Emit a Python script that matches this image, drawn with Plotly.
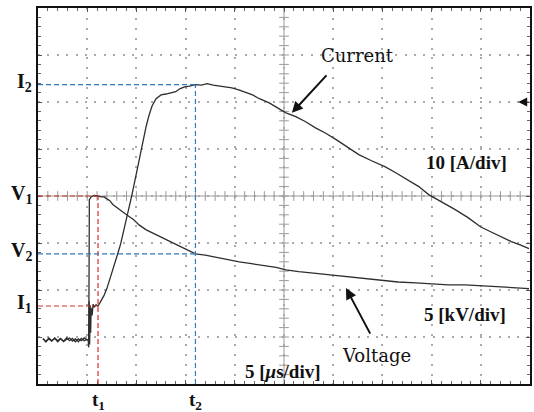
import plotly.graph_objects as go

# Oscilloscope capture: time in microseconds (trigger at 0), current in A, voltage in kV
t_cur = [-4.6, -4.3, -4.0, -3.7, -3.4, -3.1, -2.8, -2.5, -2.2, -1.9, -1.6, -1.3, -1.0, -0.7, -0.4, -0.15,
         0.0, 0.05, 0.1, 0.15, 0.2, 0.25, 0.3, 0.4, 0.5, 0.6, 0.8, 1.0, 1.3, 1.6, 1.9, 2.2, 2.5, 2.8,
         3.0, 3.3, 3.6, 3.9, 4.2, 4.4, 4.7, 5.0, 5.3, 5.6, 5.9, 6.2, 6.5, 6.9, 7.4, 7.9, 8.4, 8.9,
         9.3, 9.8, 10.3, 10.9, 11.5, 12.1, 12.7, 13.3, 13.9, 14.6, 15.3, 16.0, 16.7, 17.4, 18.4,
         19.2, 20.1, 21.1, 22.1, 23.1, 24.1, 25.2, 26.3, 27.5, 28.8, 30.2, 31.3, 32.5, 33.6, 34.6,
         35.9, 37.3, 38.6, 39.9, 40.9, 42.0, 43.0, 43.9, 44.8]
current = [0.3, -0.4, 0.2, -0.3, 0.4, -0.2, 0.3, -0.4, 0.1, 0.4, -0.3, 0.2, -0.4, 0.3, -0.2, 0.1,
           0.0, -1.6, 8.2, -1.0, 7.4, 1.5, 6.8, 5.2, 7.6, 6.9, 7.5, 7.2, 8.3, 9.4, 10.9, 12.8, 14.9, 16.8,
           18.3, 20.4, 23.0, 25.7, 28.5, 30.4, 33.4, 36.6, 39.8, 42.8, 45.5, 47.9, 49.8, 51.3, 52.1, 52.3, 52.6, 52.8,
           53.4, 53.8, 54.0, 54.3, 54.2, 54.5, 54.2, 54.0, 53.8, 53.6, 53.2, 52.6, 52.1, 51.3, 50.4,
           49.4, 48.3, 47.5, 46.4, 45.1, 44.0, 42.6, 41.1, 39.4, 38.1, 36.8, 35.5, 34.0, 32.6, 30.9,
           29.4, 27.7, 26.0, 24.0, 23.0, 21.9, 20.9, 20.2, 19.4]

t_vol = [-4.6, -4.3, -4.0, -3.7, -3.4, -3.1, -2.8, -2.5, -2.2, -1.9, -1.6, -1.3, -1.0, -0.7, -0.4, -0.15,
         0.06, 0.12, 0.3, 0.6, 1.0, 1.3, 1.6, 1.9, 2.2, 2.5, 3.2, 3.9, 4.6, 5.2, 5.9, 6.5, 7.25, 7.96,
         9.0, 9.9, 10.9, 11.9, 12.9, 14.1, 15.35, 16.6, 17.9, 19.1, 20.1, 21.4, 22.9, 24.8, 26.5,
         28.2, 29.8, 31.5, 33.3, 34.9, 36.6, 38.3, 39.9, 41.7, 43.2, 44.8]
voltage = [0.1, -0.2, 0.2, -0.1, 0.15, -0.2, 0.1, -0.15, 0.2, -0.1, 0.15, -0.2, 0.1, -0.1, 0.2, 0.0,
           0.0, 14.9, 15.2, 15.35, 15.3, 15.2, 15.2, 15.0, 14.8, 14.4, 13.8, 13.3, 12.8, 12.2, 11.7, 11.4, 11.0, 10.6,
           10.1, 9.7, 9.15, 9.0, 8.8, 8.5, 8.3, 8.1, 7.9, 7.7, 7.45, 7.25, 7.1, 6.9, 6.7,
           6.5, 6.3, 6.15, 6.05, 5.95, 5.85, 5.85, 5.75, 5.65, 5.55, 5.45]

# Marked instants and levels
t1, t2 = 1.0, 10.9
I1, I2 = 7.2, 54.3
V1, V2 = 15.3, 9.15

# Screen: 10 horizontal x 8 vertical divisions
T_RANGE = [-5.1, 44.9]      # 5 us/div
I_RANGE = [-9.4, 70.6]      # 10 A/div
V_RANGE = [-4.7, 35.3]      # 5 kV/div

TRACE = "#2e2e2e"
RED = "#d2302c"
BLUE = "#2f78c4"
GRID = "#ababab"
AXIS_GREY = "#9a9a9a"
SERIF = "Liberation Serif, Times New Roman, Times, serif"
LABEL_SERIF = "DejaVu Serif, serif"

fig = go.Figure()

# centre graticule with small division marks
t_mid = (T_RANGE[0] + T_RANGE[1]) / 2
i_mid = (I_RANGE[0] + I_RANGE[1]) / 2
minor_t = [T_RANGE[0] + k * 1.0 for k in range(1, 50)]
minor_i = [I_RANGE[0] + k * 2.0 for k in range(1, 40)]
fig.add_shape(type="line", xref="x", yref="y", x0=T_RANGE[0], x1=T_RANGE[1], y0=i_mid, y1=i_mid,
              line=dict(color=AXIS_GREY, width=1), layer="below")
fig.add_shape(type="line", xref="x", yref="y", x0=t_mid, x1=t_mid, y0=I_RANGE[0], y1=I_RANGE[1],
              line=dict(color=AXIS_GREY, width=1), layer="below")
fig.add_trace(go.Scatter(x=minor_t, y=[i_mid] * len(minor_t), mode="markers",
                         marker=dict(symbol="line-ns-open", size=7, color=AXIS_GREY,
                                     line=dict(color=AXIS_GREY, width=1)),
                         hoverinfo="skip", showlegend=False))
fig.add_trace(go.Scatter(x=[t_mid] * len(minor_i), y=minor_i, mode="markers",
                         marker=dict(symbol="line-ew-open", size=7, color=AXIS_GREY,
                                     line=dict(color=AXIS_GREY, width=1)),
                         hoverinfo="skip", showlegend=False))

# reference cursors
dash = "5px,3px"
fig.add_shape(type="line", xref="x", yref="y2", x0=T_RANGE[0], x1=t1, y0=V1, y1=V1, line=dict(color=RED, width=1.2, dash=dash))
fig.add_shape(type="line", xref="x", yref="y", x0=T_RANGE[0], x1=t1, y0=I1, y1=I1, line=dict(color=RED, width=1.2, dash=dash))
fig.add_shape(type="line", xref="x", yref="y2", x0=t1, x1=t1, y0=V_RANGE[0], y1=V1, line=dict(color=RED, width=1.2, dash=dash))
fig.add_shape(type="line", xref="x", yref="y", x0=T_RANGE[0], x1=t2, y0=I2, y1=I2, line=dict(color=BLUE, width=1.2, dash=dash))
fig.add_shape(type="line", xref="x", yref="y2", x0=T_RANGE[0], x1=t2, y0=V2, y1=V2, line=dict(color=BLUE, width=1.2, dash=dash))
fig.add_shape(type="line", xref="x", yref="y", x0=t2, x1=t2, y0=I_RANGE[0], y1=I2, line=dict(color=BLUE, width=1.2, dash=dash))

# waveforms
fig.add_trace(go.Scatter(x=t_vol, y=voltage, mode="lines", yaxis="y2",
                         line=dict(color=TRACE, width=1.3), hoverinfo="skip", showlegend=False))
fig.add_trace(go.Scatter(x=t_cur, y=current, mode="lines",
                         line=dict(color=TRACE, width=1.3), hoverinfo="skip", showlegend=False))

ann = []
# level labels on the left
for txt, val, ref in [("<b>I<sub>2</sub></b>", I2, "y"), ("<b>V<sub>1</sub></b>", V1, "y2"),
                      ("<b>V<sub>2</sub></b>", V2, "y2"), ("<b>I<sub>1</sub></b>", I1, "y")]:
    ann.append(dict(text=txt, xref="paper", x=-0.008, xanchor="right", yref=ref, y=val, yanchor="middle",
                    showarrow=False, font=dict(family=SERIF, size=20, color="#111"), yshift=2))
# time labels below
for txt, val in [("<b>t<sub>1</sub></b>", t1), ("<b>t<sub>2</sub></b>", t2)]:
    ann.append(dict(text=txt, xref="x", x=val, xanchor="center", yref="paper", y=-0.045, yanchor="middle",
                    showarrow=False, font=dict(family=SERIF, size=19, color="#111")))
# scale factors
for txt, xp, yp in [("<b>10 [A/div]</b>", 0.870, 0.588), ("<b>5 [kV/div]</b>", 0.868, 0.186),
                    ("<b>5 [<i>μ</i>s/div]</b>", 0.498, 0.032)]:
    ann.append(dict(text=txt, xref="paper", x=xp, xanchor="center", yref="paper", y=yp, yanchor="middle",
                    showarrow=False, font=dict(family=SERIF, size=19, color="#111")))
# trace names with pointers
ann.append(dict(text="Current", xref="paper", x=0.650, xanchor="center", yref="paper", y=0.875, yanchor="middle",
                showarrow=False, font=dict(family=LABEL_SERIF, size=18, color="#111")))
ann.append(dict(text="", xref="x", x=20.7, yref="y", y=48.3, showarrow=True, ax=36, ay=-39,
                arrowhead=2, arrowsize=1.1, arrowwidth=2, arrowcolor="#111"))
ann.append(dict(text="Voltage", xref="paper", x=0.688, xanchor="center", yref="paper", y=0.077, yanchor="middle",
                showarrow=False, font=dict(family=LABEL_SERIF, size=18, color="#111")))
ann.append(dict(text="", xref="x", x=26.2, yref="y2", y=5.5, showarrow=True, ax=25, ay=47,
                arrowhead=2, arrowsize=1.1, arrowwidth=2, arrowcolor="#111"))
# trigger level marker on the right edge
ann.append(dict(text="", xref="paper", x=0.976, yref="paper", y=0.75, showarrow=True, ax=10, ay=0,
                arrowhead=2, arrowsize=1.2, arrowwidth=1.5, arrowcolor="#111"))

axis_common = dict(showticklabels=False, zeroline=False, showline=True, linecolor="#111", linewidth=1.5,
                   mirror="ticks", ticks="inside", ticklen=4, tickcolor="#555", gridcolor=GRID, gridwidth=1.6)

fig.update_layout(
    width=534, height=412,
    margin=dict(l=38, r=2, t=8, b=28),
    paper_bgcolor="white", plot_bgcolor="white",
    xaxis=dict(range=T_RANGE, tick0=-0.1, dtick=5, griddash="2px,7.88px",
               minor=dict(dtick=1, tick0=-0.1, ticks="inside", ticklen=3, tickcolor="#666", showgrid=False),
               **axis_common),
    yaxis=dict(range=I_RANGE, tick0=0.6, dtick=10, griddash="2px,7.4px",
               minor=dict(dtick=2, tick0=0.6, ticks="inside", ticklen=3, tickcolor="#666", showgrid=False),
               **axis_common),
    yaxis2=dict(range=V_RANGE, overlaying="y", visible=False),
    annotations=ann,
)

fig.write_html("out.html")
